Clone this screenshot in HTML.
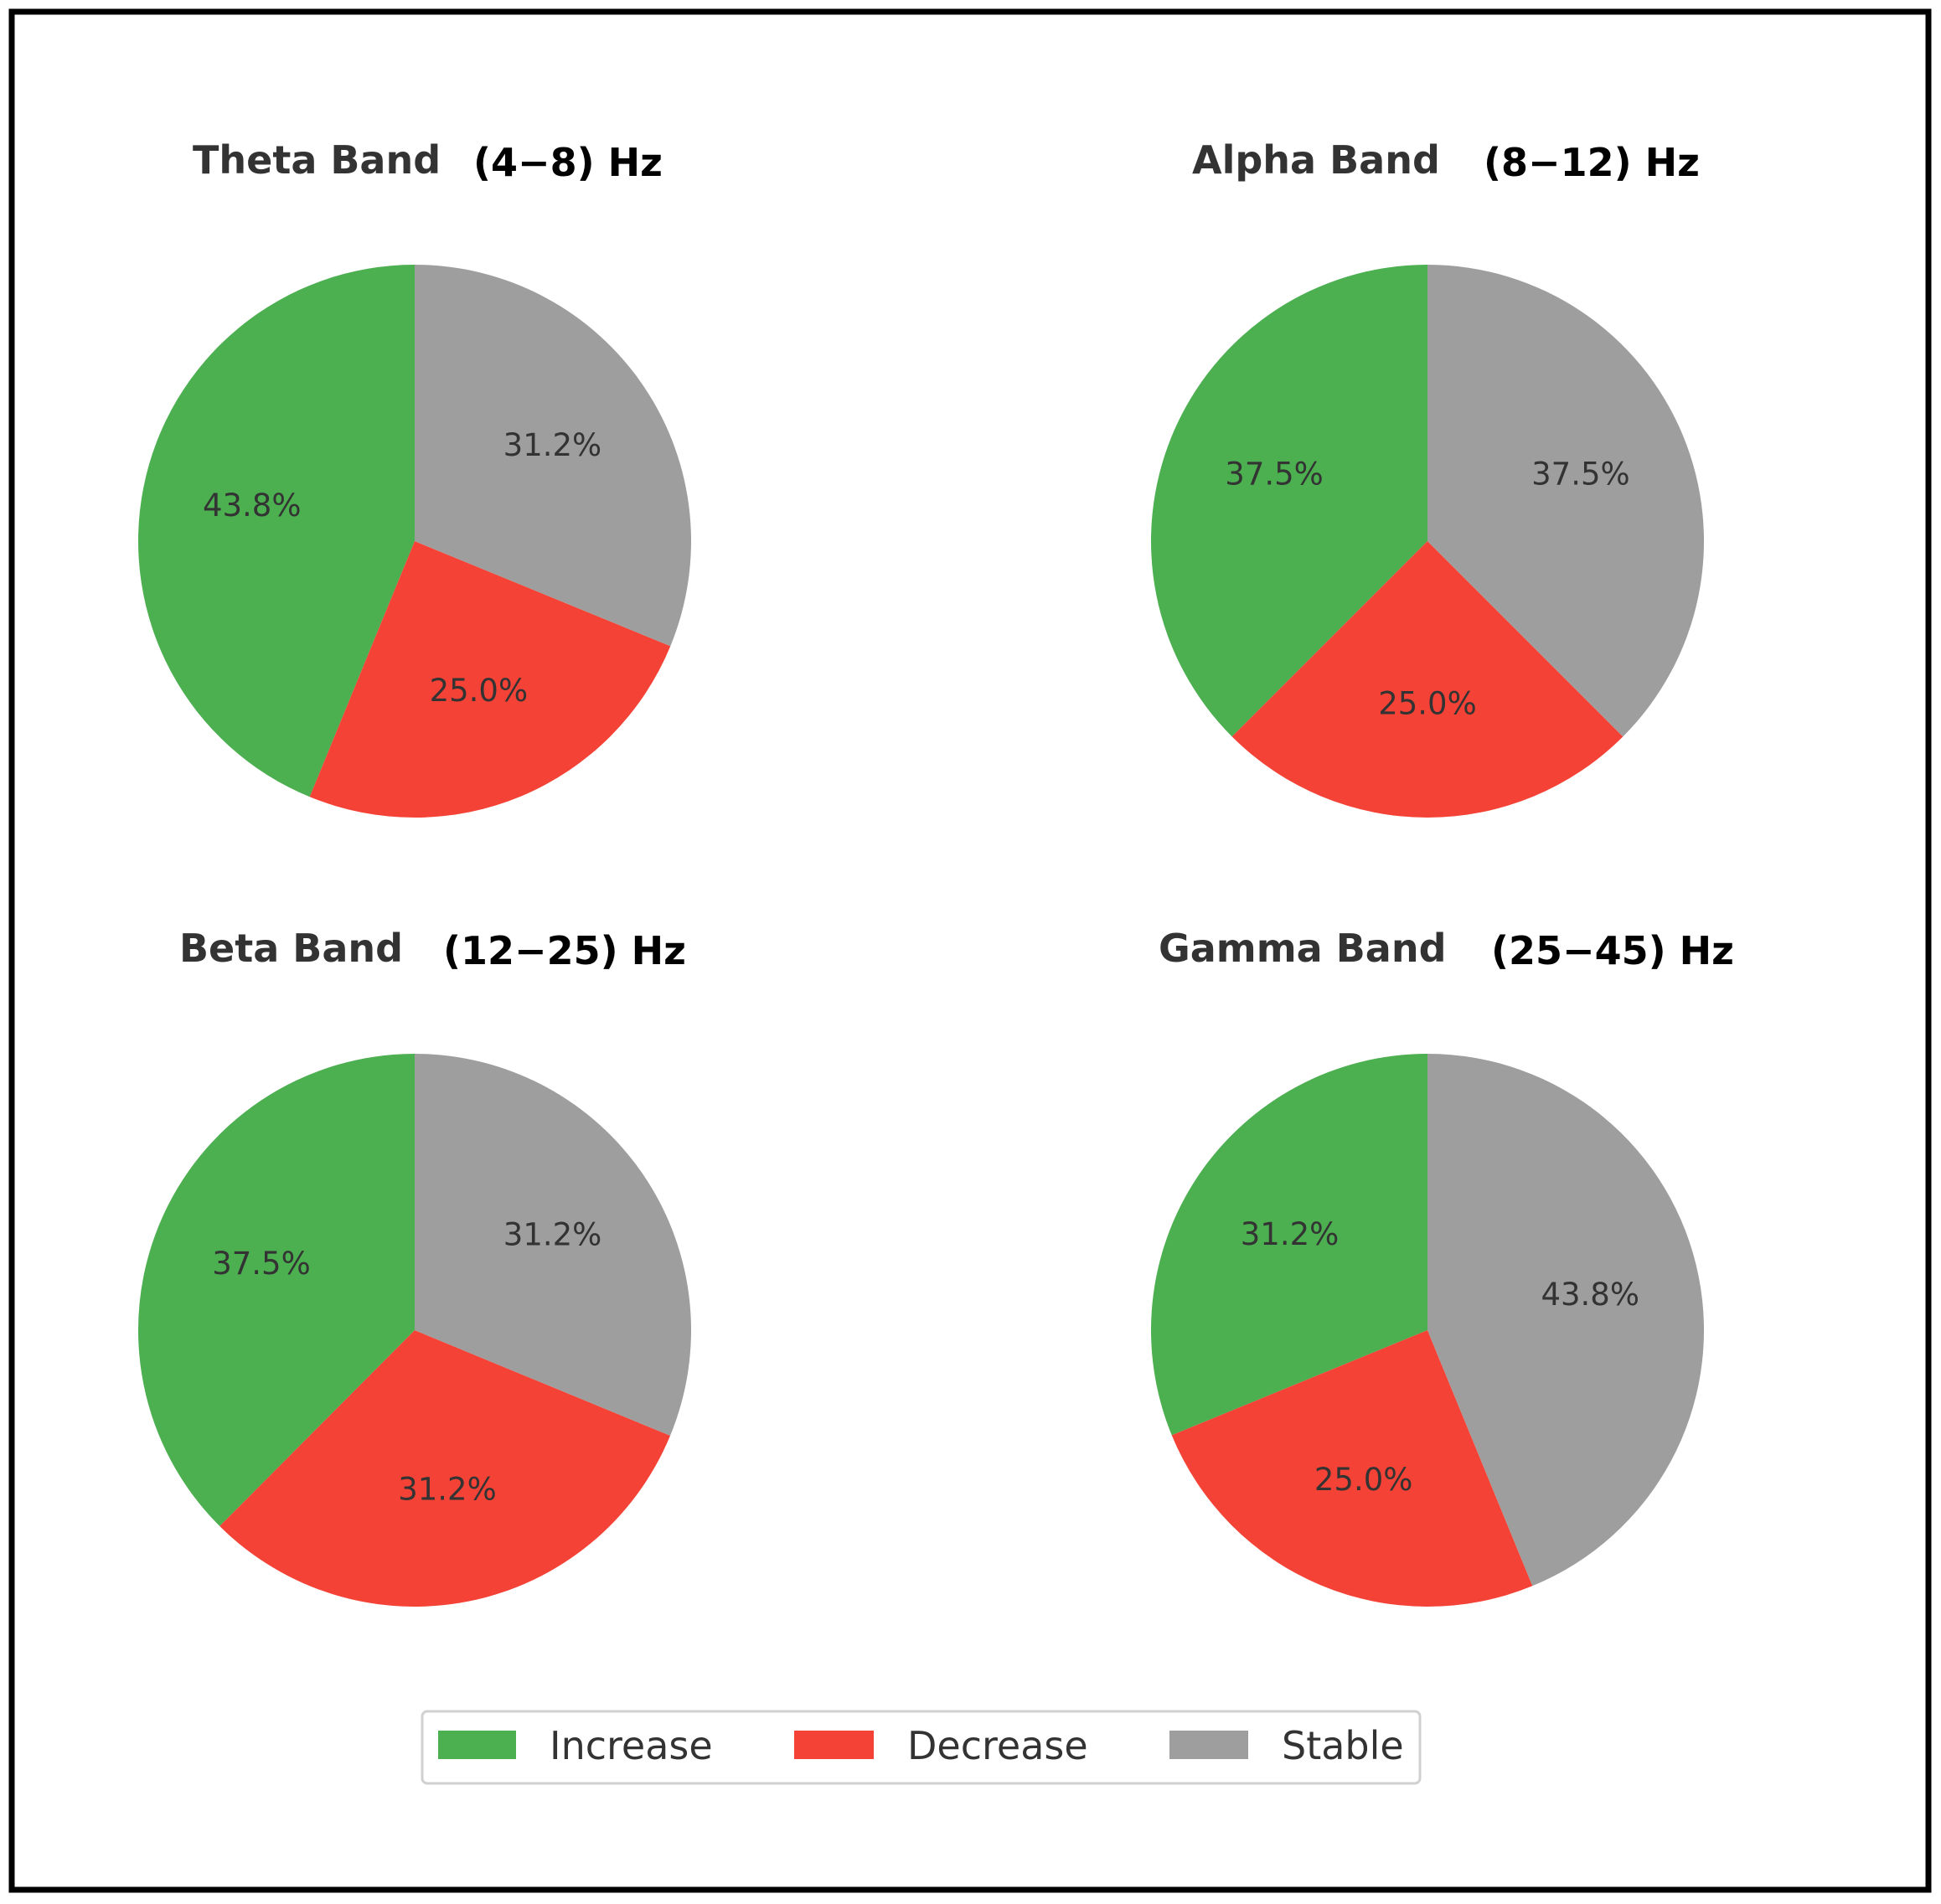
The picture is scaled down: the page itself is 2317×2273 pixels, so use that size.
<!DOCTYPE html>
<html><head><meta charset="utf-8"><style>
html,body{margin:0;padding:0;background:#fff;}
svg{display:block;}
</style></head><body>
<svg id="chart" width="2317" height="2273" viewBox="0 0 2317 2273" xmlns="http://www.w3.org/2000/svg">
<rect x="14" y="14" width="2288" height="2242" fill="#fff" stroke="#000" stroke-width="7"/>
<g id="pies"></g>
<g>
<rect x="504" y="2043" width="1191" height="86" rx="6" fill="#fff" stroke="#d0d0d0" stroke-width="3"/>
<rect x="523" y="2066" width="93" height="34" fill="#4caf50"/>
<text x="656" y="2100" font-family="DejaVu Sans, sans-serif" font-size="46" fill="#333">Increase</text>
<rect x="948" y="2066" width="95" height="34" fill="#f44336"/>
<text x="1083" y="2100" font-family="DejaVu Sans, sans-serif" font-size="46" fill="#333">Decrease</text>
<rect x="1396" y="2066" width="94" height="34" fill="#9e9e9e"/>
<text x="1530" y="2100" font-family="DejaVu Sans, sans-serif" font-size="46" fill="#333">Stable</text>
</g>
</svg>
<script>
const bandNames = ["Theta Band", "Alpha Band", "Beta Band", "Gamma Band"];
const bandRanges = ["(4\u22128) Hz", "(8\u221212) Hz", "(12\u221225) Hz", "(25\u221245) Hz"];
const increaseVals = [43.8, 37.5, 37.5, 31.2];
const decreaseVals = [25.0, 25.0, 31.2, 25.0];
const stableVals = [31.2, 37.5, 31.2, 43.8];
const categories = ["increase", "decrease", "stable"];

const colors = ["#4caf50", "#f44336", "#9e9e9e"];
const centers = [[495,646],[1704,646],[495,1588],[1704,1588]];
const R = 330;
const titleLayout = [
  {y:207, nameX:230, rangeX:565},
  {y:207, nameX:1423, rangeX:1771},
  {y:1148, nameX:214, rangeX:529},
  {y:1148, nameX:1383, rangeX:1780}
];
const NS = "http://www.w3.org/2000/svg";
const g = document.getElementById("pies");
function pt(cx, cy, r, deg){ const a = deg*Math.PI/180; return [cx + r*Math.cos(a), cy - r*Math.sin(a)]; }
for (let i = 0; i < bandNames.length; i++) {
  const vals = [increaseVals[i], decreaseVals[i], stableVals[i]];
  const total = vals.reduce((a,b)=>a+b,0);
  const [cx, cy] = centers[i];
  let start = 90;
  for (let j = 0; j < 3; j++) {
    const sweep = vals[j]/total*360;
    const end = start + sweep;
    const p1 = pt(cx, cy, R, start), p2 = pt(cx, cy, R, end);
    const large = sweep > 180 ? 1 : 0;
    const path = document.createElementNS(NS, "path");
    path.setAttribute("d", `M${cx},${cy} L${p1[0]},${p1[1]} A${R},${R} 0 ${large} 0 ${p2[0]},${p2[1]} Z`);
    path.setAttribute("fill", colors[j]);
    
    
    g.appendChild(path);
    const mid = start + sweep/2;
    const lp = pt(cx, cy, R*0.6, mid);
    const t = document.createElementNS(NS, "text");
    t.setAttribute("x", lp[0]); t.setAttribute("y", lp[1] - 4);
    t.setAttribute("text-anchor", "middle"); t.setAttribute("dominant-baseline", "central");
    t.setAttribute("font-family", "DejaVu Sans, sans-serif"); t.setAttribute("font-size", "37");
    t.setAttribute("fill", "#333");
    t.textContent = vals[j].toFixed(1) + "%";
    
    
    g.appendChild(t);
    start = end;
  }
  const L = titleLayout[i];
  const t1 = document.createElementNS(NS, "text");
  t1.setAttribute("x", L.nameX); t1.setAttribute("y", L.y);
  t1.setAttribute("font-family", "DejaVu Sans, sans-serif"); t1.setAttribute("font-weight", "bold");
  t1.setAttribute("font-size", "46"); t1.setAttribute("fill", "#333");
  t1.textContent = bandNames[i];
  
  
  g.appendChild(t1);
  const t2 = document.createElementNS(NS, "text");
  t2.setAttribute("x", L.rangeX); t2.setAttribute("y", L.y + 3);
  t2.setAttribute("font-family", "DejaVu Sans, sans-serif"); t2.setAttribute("font-weight", "bold");
  t2.setAttribute("font-size", "46"); t2.setAttribute("fill", "#000");
  t2.textContent = bandRanges[i];
  
  
  g.appendChild(t2);
}
</script>
</body></html>
